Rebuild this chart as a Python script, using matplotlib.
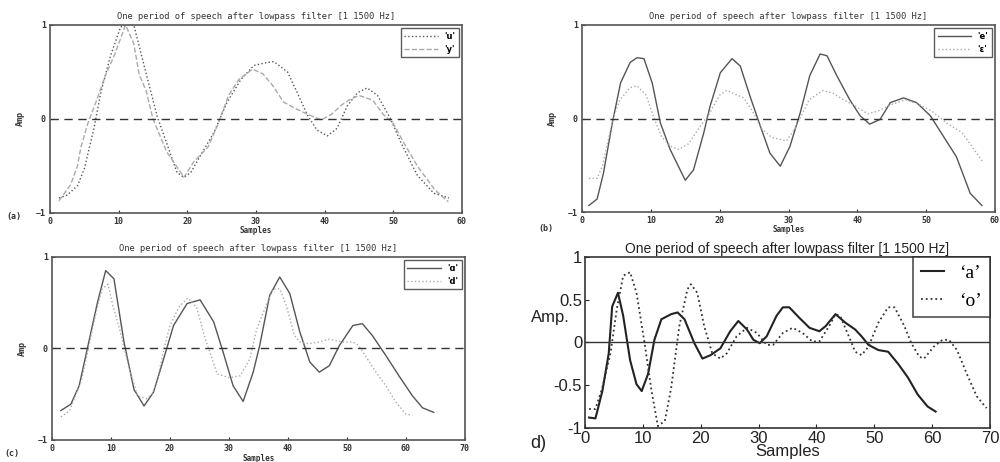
import numpy as np
import matplotlib.pyplot as plt

# ---- data ----
# (a) 'u' and 'y'
xa_u = [1.3, 2.5, 4, 5, 6.4, 7.4, 8.8, 10.3, 11.3, 12.2, 13.7, 15.6, 17.1, 18.5, 19.5, 20.5, 21.9, 23.9,
        25.8, 27.8, 29.7, 31.6, 32.6, 34.6, 36, 37.5, 38.9, 40.4, 41.8, 43.3, 44.8, 46.2, 47.7, 49.6,
        51.1, 53.5, 55.9, 58.1]
ya_u = [-0.84, -0.81, -0.71, -0.53, -0.1, 0.28, 0.67, 0.98, 1.0, 1.0, 0.57, 0.03, -0.28, -0.57, -0.62,
        -0.57, -0.39, -0.14, 0.18, 0.42, 0.57, 0.6, 0.61, 0.5, 0.28, 0.04, -0.12, -0.18, -0.1, 0.14,
        0.28, 0.33, 0.25, 0.0, -0.25, -0.6, -0.79, -0.84]
xa_y = [1.3, 3, 4, 4.5, 5.5, 6.8, 8, 9.5, 11, 12.2, 13, 14, 15, 17, 19.5, 21, 23, 24.5, 26, 27.5, 29.5,
        31, 32.5, 34, 35.5, 37.5, 39.5, 41, 42.5, 43.5, 45, 47, 48.5, 50, 51.5, 53.5, 56, 58]
ya_y = [-0.87, -0.7, -0.5, -0.3, -0.05, 0.2, 0.45, 0.7, 1.0, 0.8, 0.47, 0.3, 0.0, -0.35, -0.62, -0.45,
        -0.3, -0.05, 0.25, 0.42, 0.53, 0.48, 0.35, 0.18, 0.12, 0.05, -0.01, 0.05, 0.15, 0.2, 0.25, 0.2,
        0.05, -0.05, -0.25, -0.5, -0.75, -0.88]

# (b) 'e' and 'ɛ'
xb_e = [1, 2.2, 3.1, 4.4, 5.6, 7, 8, 9, 10.2, 11.4, 12.8, 15, 16.2, 17.7, 18.6, 20.1, 21.8, 23, 24.4,
        25.9, 27.3, 28.8, 30.2, 31.7, 33.1, 34.6, 35.6, 37, 38.9, 40.4, 41.8, 43.3, 44.8, 46.7, 48.6,
        50.6, 52.5, 54.4, 56.4, 58.1]
yb_e = [-0.93, -0.86, -0.59, -0.05, 0.38, 0.6, 0.65, 0.64, 0.38, -0.05, -0.33, -0.66, -0.55, -0.15,
        0.13, 0.49, 0.64, 0.56, 0.24, -0.08, -0.37, -0.51, -0.3, 0.06, 0.46, 0.69, 0.67, 0.46, 0.2,
        0.03, -0.06, -0.01, 0.17, 0.22, 0.17, 0.03, -0.19, -0.41, -0.8, -0.93]
xb_eps = [1, 2.2, 3, 4.5, 5.5, 7, 8, 9.3, 10.5, 11.6, 13, 14, 15.5, 17, 18.5, 20, 21, 23.5, 25, 26,
          27.5, 29.7, 31, 33, 35, 36.5, 38, 40, 41.5, 43, 45, 47, 49, 50.8, 53, 55.2, 58.3]
yb_eps = [-0.64, -0.64, -0.5, 0.0, 0.2, 0.33, 0.35, 0.25, 0.0, -0.2, -0.3, -0.33, -0.27, -0.1, 0.05,
          0.25, 0.3, 0.22, 0.05, -0.1, -0.2, -0.24, -0.1, 0.2, 0.3, 0.27, 0.2, 0.12, 0.05, 0.08, 0.15,
          0.2, 0.15, 0.08, -0.05, -0.15, -0.47]

# (c) 'ɑ' and 'd'
xc_a = [1.5, 3.2, 4.6, 6, 7.7, 9.1, 10.5, 12.2, 13.9, 15.6, 17.2, 18.9, 20.6, 22.9, 25.1, 27.4, 29,
        30.7, 32.4, 34.1, 35.2, 36.9, 38.6, 40.3, 42, 43.7, 45.3, 47, 48.7, 51, 52.6, 54.3, 56.6,
        58.8, 61.1, 62.8, 64.7]
yc_a = [-0.68, -0.61, -0.41, 0.0, 0.5, 0.85, 0.76, 0.07, -0.45, -0.63, -0.48, -0.12, 0.25, 0.49,
        0.53, 0.29, -0.04, -0.41, -0.58, -0.26, 0.03, 0.58, 0.78, 0.6, 0.18, -0.15, -0.26, -0.19,
        0.03, 0.25, 0.27, 0.14, -0.08, -0.3, -0.52, -0.65, -0.7]
xc_d = [1.5, 3, 5, 7.5, 8.5, 9.5, 10.3, 11.5, 13, 14.5, 16, 17, 18, 19, 20, 21.5, 23, 24.5, 26, 28,
        30, 31.9, 33.5, 34.7, 36.3, 37.5, 38.6, 39.7, 41.1, 42, 43.5, 45.3, 47, 49.2, 51, 52, 54.9,
        56.6, 58.3, 60, 61.1]
yc_d = [-0.75, -0.68, -0.35, 0.4, 0.65, 0.7, 0.47, 0.2, -0.2, -0.52, -0.55, -0.5, -0.3, 0.0, 0.25,
        0.45, 0.55, 0.45, 0.1, -0.28, -0.32, -0.3, -0.12, 0.21, 0.47, 0.65, 0.65, 0.47, 0.14, 0.07,
        0.05, 0.07, 0.1, 0.07, 0.07, 0.03, -0.26, -0.41, -0.59, -0.72, -0.73]

# (d) 'a' and 'o'
xd_a = [0.7, 1.8, 3, 4.1, 4.7, 5.7, 6.6, 7.8, 8.9, 9.8, 10.9, 12, 13.2, 14.9, 16, 17.2, 18.9, 20.3,
        21.7, 23.4, 25.1, 26.5, 28, 29.1, 30.2, 31.4, 33.1, 34.2, 35.3, 37, 38.8, 40.5, 41.6, 43.3,
        45, 46.7, 47.8, 49, 50.7, 52.4, 54.1, 55.8, 57.5, 59.2, 60.6]
yd_a = [-0.88, -0.89, -0.57, -0.13, 0.42, 0.58, 0.31, -0.21, -0.49, -0.57, -0.37, 0.03, 0.27, 0.33,
        0.35, 0.27, -0.01, -0.19, -0.15, -0.07, 0.13, 0.25, 0.15, 0.03, -0.01, 0.07, 0.31, 0.41, 0.41,
        0.29, 0.17, 0.13, 0.19, 0.33, 0.23, 0.15, 0.07, -0.03, -0.09, -0.11, -0.25, -0.41, -0.61,
        -0.75, -0.81]
xd_o = [0.7, 1.8, 3, 4.4, 5.5, 6.6, 7.8, 8.9, 10.3, 11.5, 12.6, 13.8, 14.9, 16.3, 17.7, 18.3, 19.4,
        20.6, 22, 23.4, 24.5, 26.2, 28, 29.7, 31.4, 32.5, 34.2, 35.9, 37.6, 39.3, 40.5, 42.2, 43.3,
        44.1, 45.6, 46.7, 47.8, 49, 50.7, 52.4, 53.5, 55.2, 56.4, 57.8, 58.6, 60.3, 61.8, 62.9, 64.3,
        66, 67.7, 69.4]
yd_o = [-0.78, -0.78, -0.53, -0.13, 0.39, 0.78, 0.82, 0.58, -0.01, -0.57, -0.98, -0.92, -0.53, 0.19,
        0.62, 0.68, 0.58, 0.19, -0.13, -0.19, -0.13, 0.07, 0.17, 0.11, -0.03, -0.03, 0.11, 0.17, 0.11,
        0.01, 0.01, 0.19, 0.33, 0.31, 0.07, -0.11, -0.15, -0.05, 0.23, 0.41, 0.41, 0.19, -0.01, -0.17,
        -0.19, -0.05, 0.03, 0.03, -0.09, -0.37, -0.63, -0.77]

title = 'One period of speech after lowpass filter [1 1500 Hz]'
mono = ['DejaVu Sans Mono']
sans = ['Liberation Sans', 'DejaVu Sans']

fig = plt.figure(figsize=(10, 4.62), dpi=100)


def old_panel(rect, x1, y1, x2, y2, s1, s2, lab1, lab2, xmax, tag, tagpos, xlab_y):
    ax = fig.add_axes(rect)
    ax.plot(x1, y1, s1, color='#555555', lw=1.0, label=lab1)
    ax.plot(x2, y2, s2, color='#aaaaaa', lw=1.0, label=lab2)
    ax.axhline(0, color='#333333', ls=(0, (6, 4)), lw=1.0)
    ax.set_xlim(0, xmax)
    ax.set_ylim(-1, 1)
    ax.set_yticks([-1, 0, 1])
    ax.set_xticks(np.arange(0, xmax + 1, 10))
    for sp in ax.spines.values():
        sp.set_color('#555555')
        sp.set_linewidth(1.2)
    ax.tick_params(direction='in', length=2, labelsize=6, colors='#333333', pad=3)
    for t in ax.get_xticklabels() + ax.get_yticklabels():
        t.set_fontfamily(mono)
        t.set_fontweight('bold')
    ax.set_title(title, fontsize=6.3, family=mono, color='#333333', pad=4)
    ax.set_ylabel('Amp', fontsize=6, family=mono, fontweight='bold', color='#333333', labelpad=8)
    fig.text(rect[0] + rect[2] / 2, xlab_y, 'Samples', fontsize=5.5, family=mono, fontweight='bold',
             color='#333333', ha='center', va='center')
    fig.text(tagpos[0], tagpos[1], tag, fontsize=6, family=mono, fontweight='bold', color='#333333')
    leg = ax.legend(loc='upper right', fontsize=6, frameon=True, fancybox=False, handlelength=4,
                    borderaxespad=0.4)
    leg.get_frame().set_edgecolor('#333333')
    leg.get_frame().set_linewidth(1.0)
    for t in leg.get_texts():
        t.set_fontweight('bold')
    return ax


old_panel([0.05, 0.539, 0.412, 0.407], xa_u, ya_u, xa_y, ya_y, ':', '--', "'u'", "'y'",
          60, '(a)', (0.006, 0.525), 0.502)
old_panel([0.582, 0.541, 0.413, 0.405], xb_e, yb_e, xb_eps, yb_eps, '-', ':', "'e'", "'ɛ'",
          60, '(b)', (0.538, 0.50), 0.503)
old_panel([0.052, 0.048, 0.413, 0.396], xc_a, yc_a, xc_d, yc_d, '-', ':', "'ɑ'", "'d'",
          70, '(c)', (0.004, 0.012), 0.008)

# (d) the newer, bolder plot
ax = fig.add_axes([0.585, 0.074, 0.405, 0.37])
ax.plot(xd_a, yd_a, '-', color='#222222', lw=1.5, label='‘a’')
ax.plot(xd_o, yd_o, ':', color='#333333', lw=1.3, label='‘o’')
ax.axhline(0, color='#333333', lw=1.0)
ax.set_xlim(0, 70)
ax.set_ylim(-1, 1)
ax.set_xticks(np.arange(0, 71, 10))
ax.set_yticks([-1, -0.5, 0, 0.5, 1])
ax.set_yticklabels(['-1', '-0.5', '0', '0.5', '1'])
for sp in ax.spines.values():
    sp.set_color('#333333')
    sp.set_linewidth(1.2)
ax.tick_params(direction='in', length=3, labelsize=12, colors='#222222', pad=2)
for t in ax.get_xticklabels() + ax.get_yticklabels():
    t.set_fontfamily(sans)
ax.set_title(title, fontsize=10, family=sans, color='#222222', pad=3)
ax.set_xlabel('Samples', fontsize=12, family=sans, color='#222222', labelpad=-1)
ax.set_ylabel('Amp.', fontsize=12, family=sans, color='#222222', rotation=0, labelpad=14)
ax.yaxis.set_label_coords(-0.085, 0.6)
leg = ax.legend(loc='upper right', frameon=True, fancybox=False, handlelength=1.2,
                borderaxespad=0, prop={'family': ['Liberation Serif', 'DejaVu Serif'], 'size': 14})
leg.get_frame().set_edgecolor('#222222')
leg.get_frame().set_linewidth(1.2)
fig.text(0.53, 0.03, 'd)', fontsize=13, family=sans, color='#222222')

plt.savefig('out.png', dpi=100)
